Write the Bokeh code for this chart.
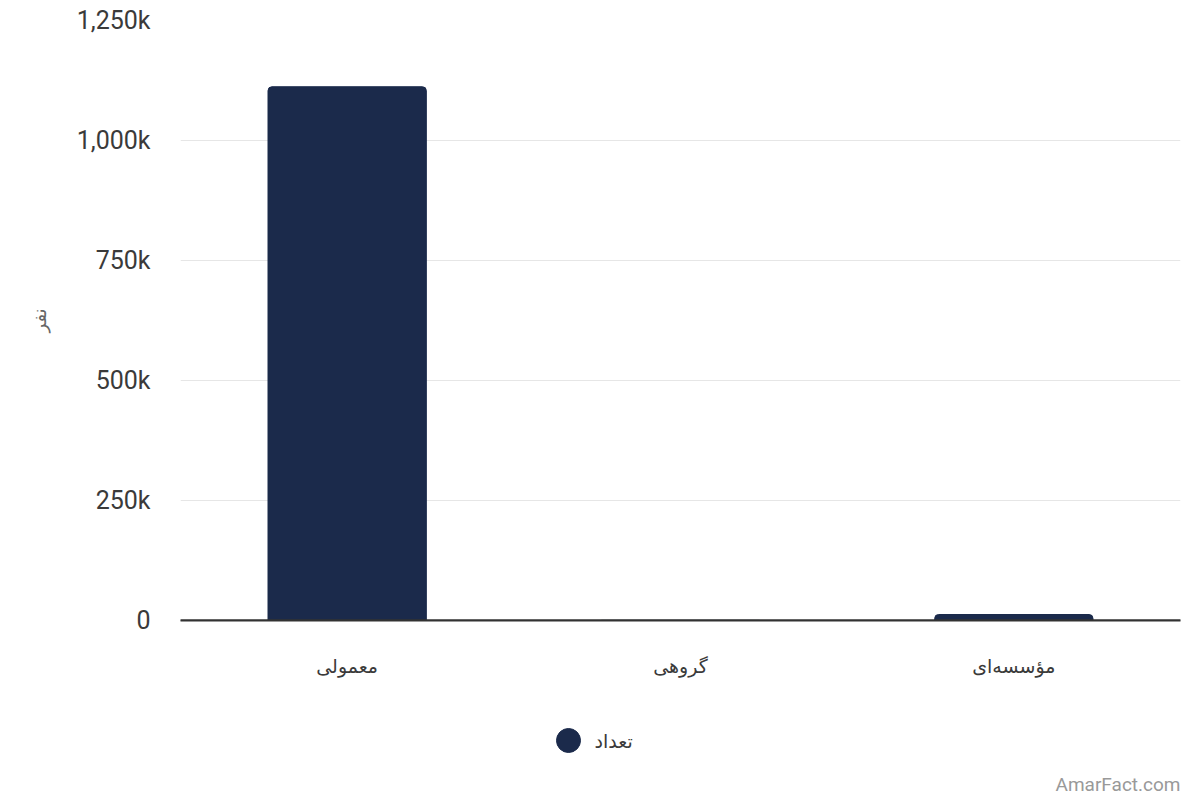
from bokeh.plotting import figure
from bokeh.models import (ColumnDataSource, FactorRange, Range1d, FixedTicker, Span)
from bokeh.layouts import column
from bokeh.core.properties import value
from bokeh.embed import file_html
from bokeh.resources import INLINE

categories = ["معمولی", "گروهی", "مؤسسه‌ای"]
counts = [1112000, 300, 12500]
series_name = "تعداد"
y_label = "نفر"
y_ticks = [0, 250000, 500000, 750000, 1000000, 1250000]
y_tick_labels = ["0", "250k", "500k", "750k", "1,000k", "1,250k"]
watermark = "AmarFact.com"

BAR = "#1b2a4b"
FA_FONT = "DejaVu Sans"

src = ColumnDataSource(dict(cat=categories, val=counts))

p = figure(width=1192, height=700, output_backend="svg", toolbar_location=None,
           x_range=FactorRange(*categories, range_padding=0),
           y_range=Range1d(0, 1250000),
           min_border_left=180, min_border_right=12, min_border_top=20,
           min_border_bottom=80)
p.outline_line_color = None
p.background_fill_color = "white"
p.border_fill_color = "white"

p.vbar(x="cat", top="val", width=0.475, source=src, color=BAR,
       border_radius=(4, 4, 0, 0))

# y axis
p.yaxis.ticker = FixedTicker(ticks=y_ticks)
p.yaxis.major_label_overrides = {t: l for t, l in zip(y_ticks, y_tick_labels)}
p.yaxis.axis_line_color = None
p.yaxis.major_tick_line_color = None
p.yaxis.major_tick_out = 0
p.yaxis.minor_tick_line_color = None
p.yaxis.major_label_standoff = 30
p.yaxis.major_label_text_font = "Roboto"
p.yaxis.major_label_text_font_size = "25px"
p.yaxis.major_label_text_color = "#3a3a3a"
p.yaxis.axis_label = y_label
p.yaxis.axis_label_text_font = FA_FONT
p.yaxis.axis_label_text_font_size = "18px"
p.yaxis.axis_label_text_font_style = "normal"
p.yaxis.axis_label_text_color = "#666666"
p.yaxis.axis_label_standoff = 24

# x axis
p.xaxis.axis_line_color = "#333333"
p.xaxis.axis_line_width = 2
p.xaxis.major_tick_line_color = None
p.xaxis.major_tick_out = 0
p.xaxis.minor_tick_line_color = None
p.xaxis.major_label_standoff = 34
p.xaxis.major_label_text_font = FA_FONT
p.xaxis.major_label_text_font_size = "19px"
p.xaxis.major_label_text_color = "#3a3a3a"

p.xgrid.grid_line_color = None
p.ygrid.grid_line_color = "#e6e6e6"
p.ygrid.grid_line_width = 1

p.add_layout(Span(location=0, dimension="width", line_color="#333333", line_width=2))

# legend + watermark strip (its frame aligns with the main frame: 180..1180 px)
q = figure(width=1192, height=100, output_backend="svg", toolbar_location=None,
           x_range=Range1d(180, 1180), y_range=Range1d(100, 0),
           x_axis_location=None, y_axis_location=None,
           min_border=0)
q.outline_line_color = None
q.grid.visible = False
q.scatter(x=[568], y=[40], marker="circle", size=24, color=BAR)
q.text(x=[594], y=[40], text=[series_name], text_align="left",
       text_baseline="middle", text_font=value(FA_FONT),
       text_font_size="19px", text_color="#3a3a3a")
q.text(x=[1180], y=[84], text=[watermark], text_align="right",
       text_baseline="middle", text_font=value("Roboto"),
       text_font_size="19px", text_color="#999999")

open("out.html", "w").write(file_html(column(p, q, spacing=0), INLINE))
